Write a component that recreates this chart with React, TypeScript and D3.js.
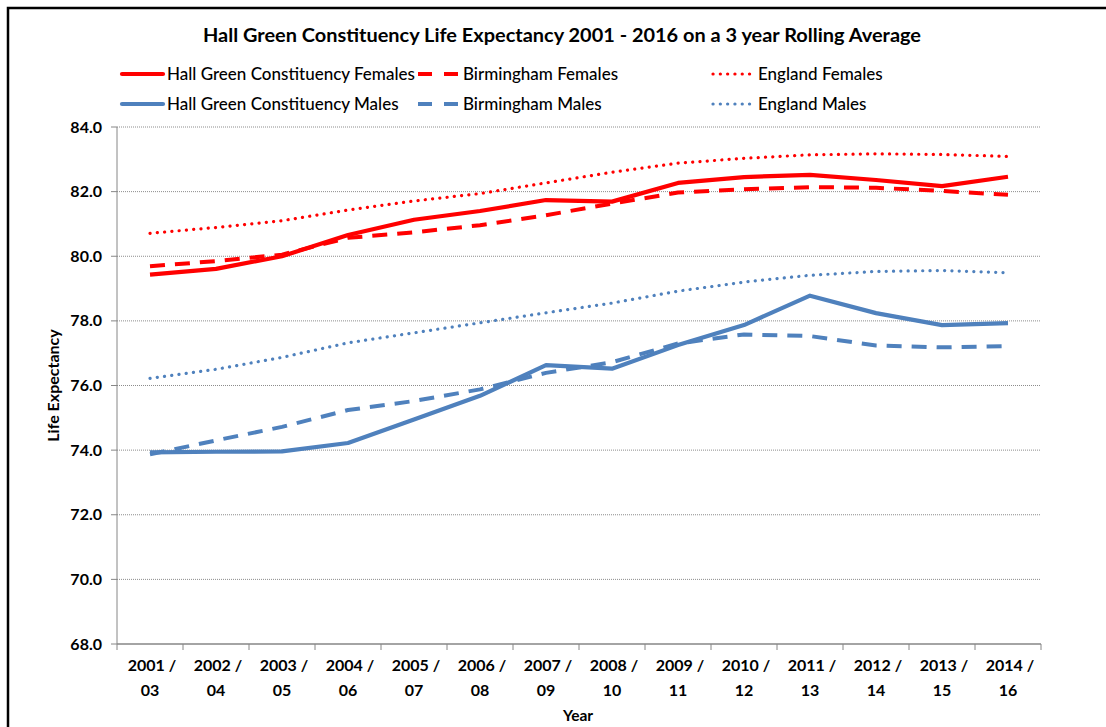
import React from "react";
import * as d3 from "d3";

// rolling 3-year periods
const periods = [
  "2001 / 03", "2002 / 04", "2003 / 05", "2004 / 06", "2005 / 07", "2006 / 08", "2007 / 09",
  "2008 / 10", "2009 / 11", "2010 / 12", "2011 / 13", "2012 / 14", "2013 / 15", "2014 / 16",
];

const hallGreenFemales = [79.43, 79.61, 80.0, 80.66, 81.13, 81.4, 81.74, 81.69, 82.27, 82.45, 82.52, 82.36, 82.17, 82.46];
const birminghamFemales = [79.69, 79.85, 80.05, 80.57, 80.74, 80.96, 81.27, 81.63, 81.97, 82.07, 82.14, 82.12, 82.02, 81.9];
const englandFemales = [80.71, 80.89, 81.1, 81.43, 81.71, 81.94, 82.27, 82.6, 82.88, 83.03, 83.14, 83.17, 83.15, 83.09];
const hallGreenMales = [73.93, 73.95, 73.96, 74.22, 74.95, 75.68, 76.63, 76.52, 77.25, 77.87, 78.78, 78.24, 77.87, 77.93];
const birminghamMales = [73.87, 74.3, 74.72, 75.24, 75.52, 75.88, 76.39, 76.72, 77.3, 77.58, 77.53, 77.24, 77.18, 77.22];
const englandMales = [76.22, 76.5, 76.87, 77.32, 77.63, 77.94, 78.25, 78.55, 78.92, 79.2, 79.41, 79.53, 79.56, 79.49];

const yTicks = [68, 70, 72, 74, 76, 78, 80, 82, 84];

const RED = "#FF0000";
const BLUE = "#4F81BD";

type Style = "solid" | "dash" | "dot";

const series: { name: string; values: number[]; color: string; style: Style }[] = [
  { name: "Hall Green Constituency Females", values: hallGreenFemales, color: RED, style: "solid" },
  { name: "Birmingham Females", values: birminghamFemales, color: RED, style: "dash" },
  { name: "England Females", values: englandFemales, color: RED, style: "dot" },
  { name: "Hall Green Constituency Males", values: hallGreenMales, color: BLUE, style: "solid" },
  { name: "Birmingham Males", values: birminghamMales, color: BLUE, style: "dash" },
  { name: "England Males", values: englandMales, color: BLUE, style: "dot" },
];

const strokeProps = (s: Style) => {
  if (s === "dash") return { strokeWidth: 4, strokeDasharray: "15 10", strokeLinecap: "butt" as const };
  if (s === "dot") return { strokeWidth: 3.2, strokeDasharray: "0.1 7.2", strokeLinecap: "round" as const };
  return { strokeWidth: 4.2, strokeLinecap: "butt" as const };
};

const FONT = "Lato, 'Open Sans', sans-serif";

export default function App() {
  const W = 1106;
  const H = 727;
  const plot = { left: 117, right: 1041, top: 127, bottom: 644 };

  const x = d3.scaleBand<string>().domain(periods).range([plot.left, plot.right]).padding(0);
  const y = d3.scaleLinear().domain([68, 84]).range([plot.bottom, plot.top]);
  const cx = (p: string) => (x(p) ?? 0) + x.bandwidth() / 2;

  const line = d3
    .line<number>()
    .x((_, i) => cx(periods[i]))
    .y((d) => y(d));

  // legend layout: 3 columns x 2 rows
  const legendCols = [122, 418, 713];
  const legendRows = [74, 104];

  const boundaries = [...periods.map((p) => x(p) ?? 0), plot.right];

  return (
    <svg
      width={W}
      height={H}
      style={{ position: "absolute", left: 0, top: 0, background: "#fff" }}
      fontFamily={FONT}
    >
      <rect x={0} y={0} width={W} height={H} fill="#fff" />
      {/* outer chart border */}
      <rect x={8} y={8} width={W + 20} height={H + 20} fill="none" stroke="#000" strokeWidth={2.5} />

      <text
        x={562}
        y={42}
        textAnchor="middle"
        fontSize={18.5}
        fontWeight="bold"
        fill="#000"
        textLength={718}
        lengthAdjust="spacingAndGlyphs"
      >
        Hall Green Constituency Life Expectancy 2001 - 2016 on a 3 year Rolling Average
      </text>

      {/* legend */}
      {series.map((s, i) => {
        const col = i % 3;
        const row = Math.floor(i / 3);
        const lx = legendCols[col];
        const ly = legendRows[row];
        return (
          <g key={s.name}>
            <line
              x1={lx}
              x2={lx + 41}
              y1={ly}
              y2={ly}
              stroke={s.color}
              {...strokeProps(s.style)}
              strokeDasharray={s.style === "dash" ? "14 12" : s.style === "dot" ? "0.1 7.2" : undefined}
              strokeLinecap={s.style === "solid" ? "round" : strokeProps(s.style).strokeLinecap}
            />
            <text x={lx + 45} y={ly + 6} fontSize={17} fontWeight={500} fill="#000">
              {s.name}
            </text>
          </g>
        );
      })}

      {/* gridlines */}
      {yTicks
        .filter((t) => t !== 68)
        .map((t) => (
          <line
            key={t}
            x1={plot.left}
            x2={plot.right}
            y1={y(t)}
            y2={y(t)}
            stroke="#8c8c8c"
            strokeWidth={1}
            strokeDasharray="1 1"
          />
        ))}

      {/* y axis */}
      <line x1={plot.left} x2={plot.left} y1={plot.top} y2={plot.bottom} stroke="#868686" strokeWidth={1} />
      {yTicks.map((t) => (
        <g key={t}>
          <line x1={plot.left - 6} x2={plot.left} y1={y(t)} y2={y(t)} stroke="#868686" />
          <text x={102} y={y(t) + 5.5} textAnchor="end" fontSize={16} fontWeight="bold" fill="#000">
            {t.toFixed(1)}
          </text>
        </g>
      ))}
      <text
        transform={`translate(59, ${(plot.top + plot.bottom) / 2}) rotate(-90)`}
        textAnchor="middle"
        fontSize={16}
        fontWeight="bold"
        fill="#000"
      >
        Life Expectancy
      </text>

      {/* x axis */}
      <line x1={plot.left} x2={plot.right} y1={plot.bottom} y2={plot.bottom} stroke="#868686" strokeWidth={1.5} />
      {boundaries.map((b, i) => (
        <line key={i} x1={b} x2={b} y1={plot.bottom} y2={plot.bottom + 6} stroke="#868686" />
      ))}
      {periods.map((p) => {
        const [a, b] = p.split(" / ");
        return (
          <text key={p} x={cx(p)} textAnchor="middle" fontSize={16} fontWeight="bold" fill="#000">
            <tspan x={cx(p) + 2} y={671}>{`${a} /`}</tspan>
            <tspan x={cx(p)} y={696}>{b}</tspan>
          </text>
        );
      })}
      <text x={578} y={721} textAnchor="middle" fontSize={15.5} fontWeight="bold" fill="#000">
        Year
      </text>

      {/* series lines */}
      {series.map((s) => (
        <path
          key={s.name}
          d={line(s.values) ?? ""}
          fill="none"
          stroke={s.color}
          strokeLinejoin="round"
          {...strokeProps(s.style)}
        />
      ))}
    </svg>
  );
}
